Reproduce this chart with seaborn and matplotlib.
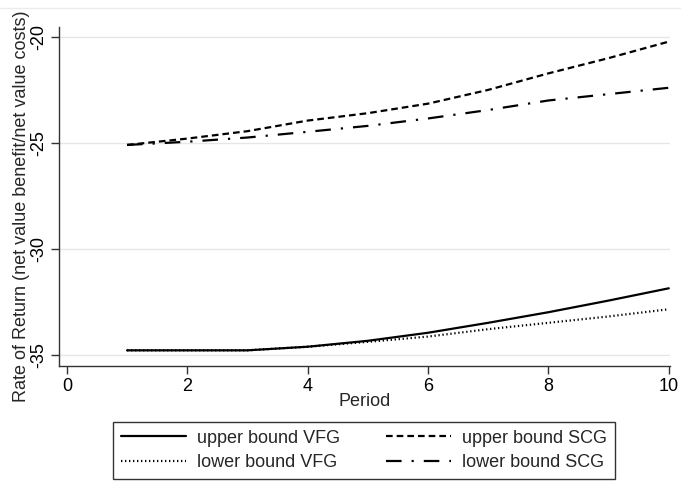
import matplotlib
matplotlib.use("Agg")
import matplotlib.pyplot as plt
import seaborn as sns
import pandas as pd

periods = [1, 2, 3, 4, 5, 6, 7, 8, 9, 10]
upper_vfg = [-34.80, -34.80, -34.80, -34.63, -34.35, -33.97, -33.50, -33.00, -32.45, -31.87]
lower_vfg = [-34.80, -34.80, -34.80, -34.63, -34.40, -34.15, -33.80, -33.50, -33.20, -32.86]
upper_scg = [-25.10, -24.80, -24.45, -23.95, -23.60, -23.15, -22.50, -21.72, -21.00, -20.22]
lower_scg = [-25.10, -24.95, -24.75, -24.48, -24.20, -23.85, -23.45, -23.00, -22.70, -22.40]
labels = ["upper bound VFG", "lower bound VFG", "upper bound SCG", "lower bound SCG"]
x_ticks = [0, 2, 4, 6, 8, 10]
y_ticks = [-35, -30, -25, -20]

sns.set_theme(style="white")
plt.rcParams['font.family'] = ['Liberation Sans', 'DejaVu Sans']

FS = 13

fig = plt.figure(figsize=(6.81, 5.0), dpi=100)
ax = fig.add_axes([59/681, 1-366/500, (670-59)/681, (366-27)/500])

styles = [
    dict(linestyle='-'),
    dict(linestyle=(0, (0.6, 1.2))),
    dict(linestyle=(0, (3.0, 1.8))),
    dict(linestyle=(0, (7.0, 4.5, 1.0, 4.5))),
]
series = [upper_vfg, lower_vfg, upper_scg, lower_scg]
for vals, lab, st in zip(series, labels, styles):
    df = pd.DataFrame({"Period": periods, "value": vals})
    sns.lineplot(data=df, x="Period", y="value", ax=ax, color="black",
                 linewidth=1.6, label=lab, **st)

ax.set_xlim(-0.13, 10.02)
ax.set_ylim(-35.54, -19.53)
ax.set_xticks(x_ticks)
ax.set_yticks(y_ticks)
ax.set_yticklabels([str(v) for v in y_ticks], rotation=90, va='center')
ax.yaxis.grid(True, color="#e6e6e6", linewidth=1)
ax.xaxis.grid(False)
for s in ["top", "right"]:
    ax.spines[s].set_visible(False)
for s in ["left", "bottom"]:
    ax.spines[s].set_color("#333333")
    ax.spines[s].set_linewidth(1.0)
ax.tick_params(axis='both', which='major', direction='out', length=5.5, width=1,
               color="#333333", labelsize=FS, labelcolor="black",
               bottom=True, left=True, pad=3)
ax.set_xlabel("Period", fontsize=FS, labelpad=-1)
ax.set_ylabel("Rate of Return (net value benefit/net value costs)", fontsize=FS)
ax.yaxis.set_label_coords((30-59)/611, (366-206)/339)

handles, labs = ax.get_legend_handles_labels()
ax.get_legend().remove()
leg = fig.legend(handles, labs, loc='center', bbox_to_anchor=(364/681, 1-450.5/500),
                 ncol=2, fontsize=FS, frameon=True, fancybox=False, edgecolor="black",
                 handlelength=3.6, columnspacing=2.5, borderpad=0.4, labelspacing=0.42,
                 handletextpad=0.65)
leg.get_frame().set_linewidth(1.0)

fig.add_artist(plt.Line2D([0, 1], [1-8/500, 1-8/500], color="#ececec", linewidth=1, transform=fig.transFigure))

fig.savefig("out.png", dpi=100, facecolor="white")
